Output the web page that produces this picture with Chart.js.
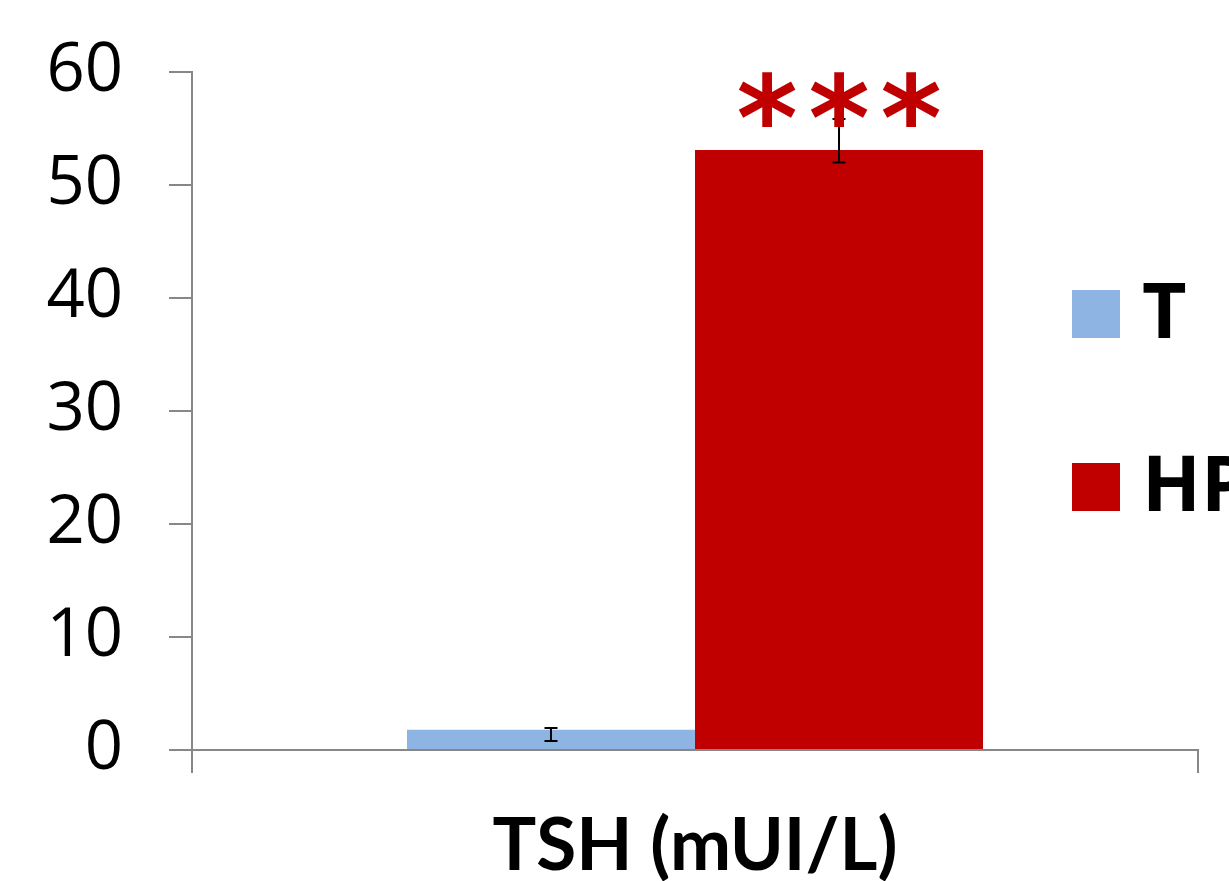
<!DOCTYPE html>
<html>
<head>
<meta charset="utf-8">
<script src="https://cdn.jsdelivr.net/npm/chart.js@4"></script>
<style>
  html, body { margin: 0; padding: 0; background: #fff; }
  #wrap { width: 1229px; height: 881px; }
</style>
</head>
<body>
<div id="wrap"><canvas id="chart" width="1229" height="881"></canvas></div>
<script>
// data
var categories = ['TSH (mUI/L)'];
var seriesNames = ['T', 'HP'];
var seriesColors = ['#8EB4E3', '#C00000'];
var tValues = [1.8];
var hpValues = [53.1];
var tErrLow = [0.8];
var tErrHigh = [1.95];
var hpErrLow = [52.0];
var hpErrHigh = [55.85];
var significance = ['', '***'];
var yMin = 0, yMax = 60, yStep = 10;

var axisGray = '#878787';
var boldFamily = 'Lato, "Open Sans", sans-serif';

var errorBars = {
  id: 'errorBars',
  afterDatasetsDraw: function(chart) {
    var ctx = chart.ctx;
    var y = chart.scales.y;
    var lows = [tErrLow, hpErrLow];
    var highs = [tErrHigh, hpErrHigh];
    ctx.save();
    ctx.strokeStyle = '#000';
    ctx.lineWidth = 2;
    chart.data.datasets.forEach(function(ds, di) {
      var meta = chart.getDatasetMeta(di);
      meta.data.forEach(function(bar, i) {
        var yl = y.getPixelForValue(lows[di][i]);
        var yh = y.getPixelForValue(highs[di][i]);
        ctx.beginPath();
        ctx.moveTo(bar.x, yl); ctx.lineTo(bar.x, yh);
        ctx.moveTo(bar.x - 6.5, yl); ctx.lineTo(bar.x + 6.5, yl);
        ctx.moveTo(bar.x - 6.5, yh); ctx.lineTo(bar.x + 6.5, yh);
        ctx.stroke();

        // significance stars above the bar
        var txt = significance[di];
        if (!txt) return;
        var cy = yh - 19;
        ctx.fillStyle = seriesColors[di];
        ctx.font = 'bold 100px "DejaVu Sans"';
        var m = ctx.measureText('*');
        var h = m.actualBoundingBoxAscent + m.actualBoundingBoxDescent;
        var size = 100 * 55 / h;
        ctx.font = 'bold ' + size + 'px "DejaVu Sans"';
        m = ctx.measureText('*');
        var base = cy + (m.actualBoundingBoxAscent - m.actualBoundingBoxDescent) / 2;
        var mid = (m.actualBoundingBoxRight - m.actualBoundingBoxLeft) / 2;
        for (var k = 0; k < txt.length; k++) {
          var cx = bar.x + (k - (txt.length - 1) / 2) * 72;
          ctx.fillText('*', cx - mid, base);
        }
      });
    });
    ctx.restore();
  }
};

var sideLegend = {
  id: 'sideLegend',
  afterDraw: function(chart) {
    var ctx = chart.ctx;
    var tops = [290, 463];
    ctx.save();
    ctx.font = 'bold 77px "Open Sans"';
    ctx.textBaseline = 'alphabetic';
    seriesNames.forEach(function(name, i) {
      ctx.fillStyle = seriesColors[i];
      ctx.fillRect(1072, tops[i], 48, 48);
      ctx.fillStyle = '#000';
      ctx.fillText(name, 1142, tops[i] + 48);
    });
    ctx.restore();
  }
};

var ctx = document.getElementById('chart').getContext('2d');
var myChart = new Chart(ctx, {
  type: 'bar',
  data: {
    labels: categories,
    datasets: [{
      label: seriesNames[0],
      data: tValues,
      backgroundColor: seriesColors[0],
      barPercentage: 1,
      categoryPercentage: 0.5726
    }, {
      label: seriesNames[1],
      data: hpValues,
      backgroundColor: seriesColors[1],
      barPercentage: 1,
      categoryPercentage: 0.5726
    }]
  },
  options: {
    responsive: false,
    animation: false,
    layout: { padding: { top: 72, right: 31, left: 0, bottom: 0 } },
    plugins: {
      legend: { display: false },
      tooltip: { enabled: false }
    },
    scales: {
      x: {
        grid: { offset: true, drawOnChartArea: false, tickLength: 23, color: axisGray, lineWidth: 2 },
        border: { color: axisGray, width: 2 },
        ticks: {
          color: '#000',
          padding: 30,
          font: { family: boldFamily, size: 73, weight: 'bold' }
        },
        afterFit: function(scale) {
          scale.height = 131;
          scale.paddingLeft = 0; scale.paddingRight = 0;
        }
      },
      y: {
        min: yMin,
        max: yMax,
        ticks: {
          stepSize: yStep,
          color: '#000',
          padding: 46,
          font: { family: 'Open Sans', size: 67 }
        },
        grid: { drawOnChartArea: false, tickLength: 23, color: axisGray, lineWidth: 2 },
        border: { color: axisGray, width: 2 },
        afterFit: function(scale) {
          scale.width = 192;
          scale.paddingTop = 0; scale.paddingBottom = 0;
        }
      }
    }
  },
  plugins: [errorBars, sideLegend]
});
</script>
</body>
</html>
